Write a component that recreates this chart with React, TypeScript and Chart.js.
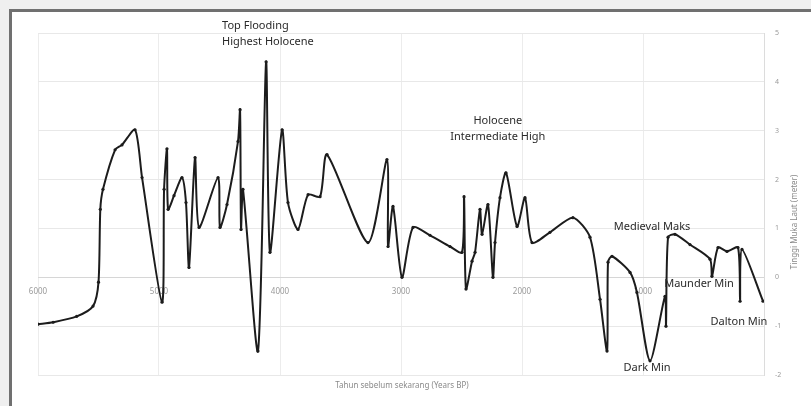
import React, { useEffect, useRef } from "react";
import { Chart, registerables } from "chart.js";

Chart.register(...registerables);

// Years before present
const years = [
  6000, 5875, 5680, 5545, 5500, 5485, 5463, 5363, 5306, 5198, 5140, 4975, 4958, 4934, 4925, 4876,
  4810, 4777, 4752, 4702, 4669, 4512, 4496, 4438, 4347, 4330, 4322, 4306, 4182, 4115, 4083, 3983,
  3934, 3851, 3768, 3669, 3611, 3273, 3116, 3107, 3066, 2992, 2901, 2760, 2595, 2496, 2479, 2463,
  2413, 2388, 2347, 2330, 2281, 2240, 2223, 2182, 2132, 2041, 1975, 1917, 1769, 1579, 1438, 1355,
  1297, 1289, 1256, 1107, 1050, 942, 818, 810, 793, 736, 612, 446, 430, 380, 306, 215, 198, 182, 8,
];

// Sea level (metres)
const seaLevel = [
  -0.96, -0.92, -0.8, -0.59, -0.1, 1.39, 1.8, 2.61, 2.71, 3.02, 2.04, -0.51, 1.8, 2.63, 1.39, 1.67,
  2.04, 1.53, 0.2, 2.45, 1.02, 2.04, 1.02, 1.49, 2.78, 3.43, 0.98, 1.8, -1.51, 4.41, 0.51, 3.02,
  1.53, 0.98, 1.69, 1.65, 2.51, 0.71, 2.41, 0.63, 1.45, 0.0, 1.02, 0.86, 0.63, 0.51, 1.65, -0.24,
  0.33, 0.51, 1.39, 0.88, 1.49, 0.0, 0.71, 1.63, 2.14, 1.04, 1.63, 0.71, 0.92, 1.22, 0.82, -0.45,
  -1.51, 0.31, 0.43, 0.1, -0.31, -1.71, -0.39, -1.0, 0.82, 0.88, 0.67, 0.37, 0.02, 0.61, 0.53, 0.61, -0.49, 0.57, -0.49,
];

const xTickLabels = [6000, 5000, 4000, 3000, 2000, 1000];
const yTicks = [-2, -1, 0, 1, 2, 3, 4, 5];

const xTitle = "Tahun sebelum sekarang (Years BP)";
const yTitle = "Tinggi Muka Laut (meter)";

const annotations = [
  { lines: ["Top Flooding", "Highest Holocene"], year: 4479, value: 5.15, align: "left" },
  { lines: ["Holocene", "Intermediate High"], year: 2200, value: 3.2, align: "center" },
  { lines: ["Medieval Maks"], year: 925, value: 1.04, align: "center" },
  { lines: ["Maunder Min"], year: 537, value: -0.14, align: "center" },
  { lines: ["Dalton Min"], year: 207, value: -0.92, align: "center" },
  { lines: ["Dark Min"], year: 967, value: -1.86, align: "center" },
];

const FONT = "'Noto Sans', 'Open Sans', sans-serif";

const framePlugin = {
  id: "frame",
  beforeDraw(chart: any) {
    const { ctx, width, height } = chart;
    ctx.save();
    ctx.fillStyle = "#efefef";
    ctx.fillRect(0, 0, width, height);
    ctx.fillStyle = "#ffffff";
    ctx.fillRect(12, 12, width - 12, height - 12);
    ctx.fillStyle = "#707070";
    ctx.fillRect(9, 9, width - 9, 3);
    ctx.fillRect(9, 9, 3, height - 9);
    ctx.restore();
  },
};

const textPlugin = {
  id: "texts",
  afterDatasetsDraw(chart: any) {
    const { ctx, scales, chartArea } = chart;
    const xs = scales.x;
    const ys = scales.y;
    ctx.save();
    ctx.fillStyle = "#2a2a2a";
    ctx.font = `11px ${FONT}`;
    ctx.textBaseline = "middle";
    annotations.forEach((a) => {
      const px = xs.getPixelForValue(a.year);
      const py = ys.getPixelForValue(a.value);
      ctx.textAlign = a.align;
      a.lines.forEach((ln, i) => {
        ctx.fillText(ln, px, py + i * 16);
      });
    });
    // axis titles
    ctx.fillStyle = "#8a8a8a";
    ctx.font = `8px ${FONT}`;
    ctx.textAlign = "center";
    ctx.fillText(xTitle, (chartArea.left + chartArea.right) / 2 + 1, 386);
    ctx.translate(795, 222);
    ctx.rotate(-Math.PI / 2);
    ctx.fillText(yTitle, 0, 0);
    ctx.restore();
  },
};

export default function App() {
  const ref = useRef<HTMLCanvasElement>(null);

  useEffect(() => {
    if (!ref.current) return;
    const chart = new Chart(ref.current, {
      type: "line",
      data: {
        datasets: [
          {
            data: years.map((x, i) => ({ x, y: seaLevel[i] })),
            borderColor: "#1c1c1c",
            borderWidth: 2,
            pointRadius: 1.6,
            pointBackgroundColor: "#1c1c1c",
            pointBorderWidth: 0,
            tension: 0.25,
            fill: false,
          },
        ],
      },
      options: {
        animation: false,
        responsive: false,
        devicePixelRatio: 1,
        layout: { padding: { left: 38, top: 33, right: 0, bottom: 31 } },
        plugins: {
          legend: { display: false },
          tooltip: { enabled: false },
        },
        scales: {
          x: {
            type: "linear",
            reverse: true,
            min: 0,
            max: 6000,
            position: { y: 0 },
            afterBuildTicks: (s: any) => {
              s.ticks = [...xTickLabels, 0].map((v) => ({ value: v }));
            },
            ticks: {
              color: "#9a9a9a",
              font: { size: 8, family: FONT },
              padding: 10,
              maxRotation: 0,
              autoSkip: false,
              callback: (v: any) => (v === 0 ? "" : String(v)),
            },
            grid: { color: "#ececec", drawTicks: false },
            border: { color: "#d6d6d6" },
          },
          y: {
            type: "linear",
            position: "right",
            min: -2,
            max: 5,
            afterBuildTicks: (s: any) => {
              s.ticks = yTicks.map((v) => ({ value: v }));
            },
            afterFit: (s: any) => {
              s.width = 47;
            },
            ticks: {
              color: "#9a9a9a",
              font: { size: 7, family: FONT },
              padding: 11,
              callback: (v: any) => String(v),
            },
            grid: { color: "#e8e8e8", drawTicks: false },
            border: { color: "#dcdcdc" },
          },
        },
      } as any,
      plugins: [framePlugin, textPlugin],
    });
    return () => chart.destroy();
  }, []);

  return (
    <div style={{ position: "absolute", left: 0, top: 0, width: 811, height: 406 }}>
      <canvas ref={ref} width={811} height={406} style={{ display: "block" }} />
    </div>
  );
}
